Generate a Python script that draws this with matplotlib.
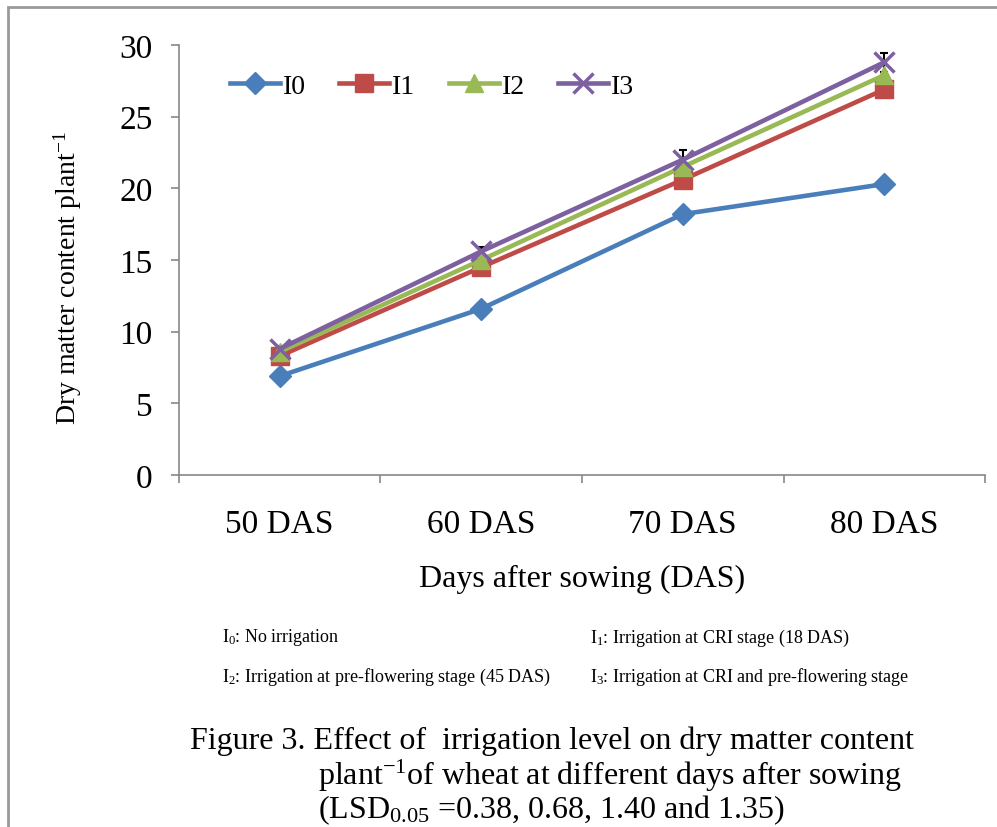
import matplotlib
matplotlib.use("Agg")
import matplotlib.pyplot as plt
from matplotlib.patches import Rectangle

plt.rcParams['font.family'] = ['Liberation Serif', 'DejaVu Serif']
plt.rcParams['mathtext.fontset'] = 'custom'
plt.rcParams['mathtext.rm'] = 'Liberation Serif'
plt.rcParams['mathtext.default'] = 'regular'

days = ['50 DAS', '60 DAS', '70 DAS', '80 DAS']
i0 = [6.9, 11.6, 18.2, 20.3]
i1 = [8.3, 14.5, 20.6, 26.9]
i2 = [8.6, 15.0, 21.5, 27.9]
i3 = [8.8, 15.6, 22.0, 28.8]
lsd = [0.38, 0.68, 1.40, 1.35]

series = [
    ('I0', i0, '#4a7ebb', 'D', 11),
    ('I1', i1, '#be4b48', 's', 13),
    ('I2', i2, '#98b954', '^', 13),
    ('I3', i3, '#7d60a0', 'x', 14),
]

fig = plt.figure(figsize=(9.97, 8.28), dpi=100)
ax = fig.add_axes([0.1795, 0.4251, 0.8085, 0.5193])

x = list(range(len(days)))
# half LSD shown as error bars on the top series
ax.errorbar(x, i3, yerr=[v / 2 for v in lsd], fmt='none', ecolor='black',
            elinewidth=1.5, capsize=3, capthick=1.5, zorder=2)
for name, vals, col, mk, ms in series:
    ax.plot(x, vals, color=col, lw=3.3, marker=mk, markersize=ms,
            markeredgewidth=2.5 if mk == 'x' else 1, markeredgecolor=col,
            label=name, zorder=3)

ax.set_xlim(-0.5, 3.5)
ax.set_ylim(0, 30)
ax.set_yticks(range(0, 31, 5))
ax.set_xticks(x)
ax.set_xticklabels(days)
ax.set_xticks([-0.5, 0.5, 1.5, 2.5, 3.5], minor=True)
ax.tick_params(axis='x', which='major', length=0, pad=24, labelsize=24)
ax.tick_params(axis='x', which='minor', length=6, width=1.2, color='#888888')
ax.tick_params(axis='y', length=6, width=1.2, color='#888888', labelsize=24, pad=13)
for s in ['top', 'right']:
    ax.spines[s].set_visible(False)
for s in ['left', 'bottom']:
    ax.spines[s].set_color('#888888')
    ax.spines[s].set_linewidth(1.2)

ax.set_ylabel('Dry matter content plant$^{-1}$', fontsize=20)
ax.yaxis.set_label_coords(-0.118, 0.46)
ax.set_xlabel('Days after sowing (DAS)', fontsize=23, labelpad=18)

ax.legend(loc='upper left', bbox_to_anchor=(0.05, 0.96), ncol=4, frameon=False,
          fontsize=20, handlelength=1.8, handletextpad=0.1, columnspacing=1.2,
          borderaxespad=0)

fs = 13
fig.text(222 / 997, 1 - 638 / 828, 'I$_0$: No irrigation', fontsize=fs, va='center')
fig.text(590 / 997, 1 - 638 / 828, 'I$_1$: Irrigation at CRI stage (18 DAS)', fontsize=fs, va='center')
fig.text(222 / 997, 1 - 677 / 828, 'I$_2$: Irrigation at pre-flowering stage (45 DAS)', fontsize=fs, va='center')
fig.text(590 / 997, 1 - 677 / 828, 'I$_3$: Irrigation at CRI and pre-flowering stage', fontsize=fs, va='center')

cs = 23
fig.text(190 / 997, 1 - 741 / 828, 'Figure 3. Effect of  irrigation level on dry matter content',
         fontsize=cs, va='center')
fig.text(318 / 997, 1 - 776 / 828, 'plant$^{-1}$of wheat at different days after sowing',
         fontsize=cs, va='center')
fig.text(318 / 997, 1 - 810 / 828, '(LSD$_{0.05}$ =0.38, 0.68, 1.40 and 1.35)',
         fontsize=cs, va='center')

fig.patches.append(Rectangle((8 / 997, -0.1), 1.2, 1.1 - 8 / 828, transform=fig.transFigure,
                             fill=False, edgecolor='#999999', lw=2))

fig.savefig('out.png', dpi=100)
